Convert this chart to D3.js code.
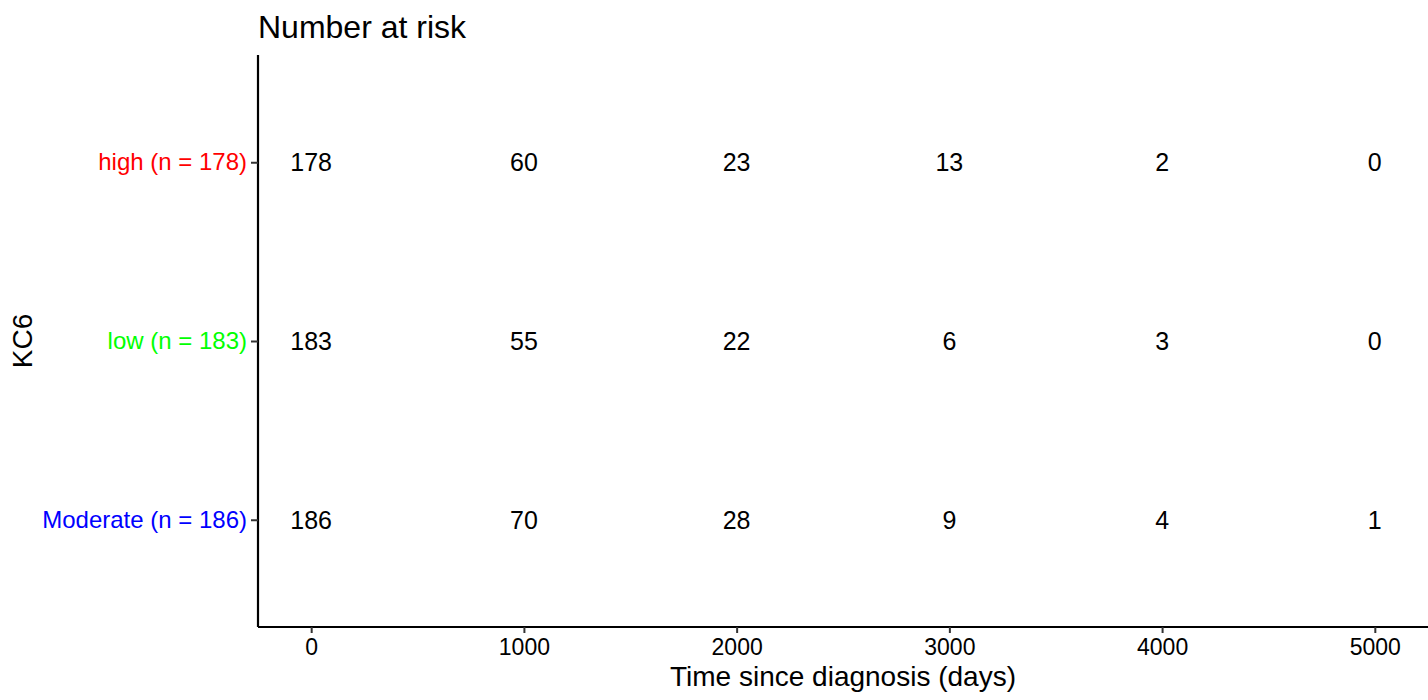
<!DOCTYPE html>
<html>
<head>
<meta charset="utf-8">
<script src="https://cdn.jsdelivr.net/npm/d3@7"></script>
<style>
  body { margin: 0; background: #fff; }
  text { font-family: "Liberation Sans", Arial, sans-serif; }
</style>
</head>
<body>
<svg width="1428" height="700"></svg>
<script>
// number-at-risk table
var groups = ['high', 'low', 'Moderate'];
var groupN = [178, 183, 186];
var groupColors = ['#FF0000', '#00FF00', '#0000FF'];
var times = [0, 1000, 2000, 3000, 4000, 5000];
var atRiskHigh = [178, 60, 23, 13, 2, 0];
var atRiskLow = [183, 55, 22, 6, 3, 0];
var atRiskModerate = [186, 70, 28, 9, 4, 1];

var svg = d3.select('svg');

// panel edges (note: "top" is reserved on window)
var pLeft = 258, pRight = 1428, pTop = 55, pBottom = 627;

var x = d3.scaleLinear().domain([-250, 5250]).range([pLeft, pRight]);
// discrete y with ggplot style expansion
var y = d3.scalePoint().domain(groups).range([pTop, pBottom]).padding(0.6);

var rows = [atRiskHigh, atRiskLow, atRiskModerate];
var cells = [];
groups.forEach(function(g, gi) {
  times.forEach(function(t, ti) {
    cells.push({group: g, time: t, n: rows[gi][ti]});
  });
});

svg.selectAll('text.cell')
  .data(cells)
  .enter()
  .append('text')
  .attr('class', 'cell')
  .attr('x', function(d) { return x(d.time); })
  .attr('y', function(d) { return y(d.group); })
  .attr('dy', '0.35em')
  .attr('text-anchor', 'middle')
  .style('font-size', '25px')
  .style('fill', '#000')
  .text(function(d) { return d.n; });

// x axis
var xAxis = svg.append('g')
  .attr('transform', 'translate(0,' + pBottom + ')')
  .call(d3.axisBottom(x).tickValues(times).tickSize(6).tickPadding(6).tickFormat(d3.format('d')));
xAxis.select('.domain').attr('d', 'M' + pLeft + ',0H' + pRight).attr('stroke', '#000').attr('stroke-width', 2.2);
xAxis.selectAll('.tick line').attr('stroke', '#333').attr('stroke-width', 2);
xAxis.selectAll('.tick text')
  .style('font-size', '23px')
  .style('fill', '#000')
  .attr('font-family', null);

// y axis
var yAxis = svg.append('g')
  .attr('transform', 'translate(' + pLeft + ',0)')
  .call(d3.axisLeft(y).tickSize(7).tickPadding(4)
    .tickFormat(function(d) { return d + ' (n = ' + groupN[groups.indexOf(d)] + ')'; }));
yAxis.select('.domain').attr('d', 'M0,' + pTop + 'V' + pBottom).attr('stroke', '#000').attr('stroke-width', 2.2);
yAxis.selectAll('.tick line').attr('stroke', '#333').attr('stroke-width', 2);
yAxis.selectAll('.tick text')
  .style('font-size', '24px')
  .attr('font-family', null)
  .style('fill', function(d) { return groupColors[groups.indexOf(d)]; });

// titles
svg.append('text')
  .attr('x', pLeft)
  .attr('y', 38)
  .style('font-size', '32px')
  .text('Number at risk');

svg.append('text')
  .attr('x', (pLeft + pRight) / 2)
  .attr('y', 686)
  .attr('text-anchor', 'middle')
  .style('font-size', '28px')
  .text('Time since diagnosis (days)');

svg.append('text')
  .attr('transform', 'translate(32,' + ((pTop + pBottom) / 2) + ') rotate(-90)')
  .attr('text-anchor', 'middle')
  .style('font-size', '28px')
  .text('KC6');
</script>
</body>
</html>
